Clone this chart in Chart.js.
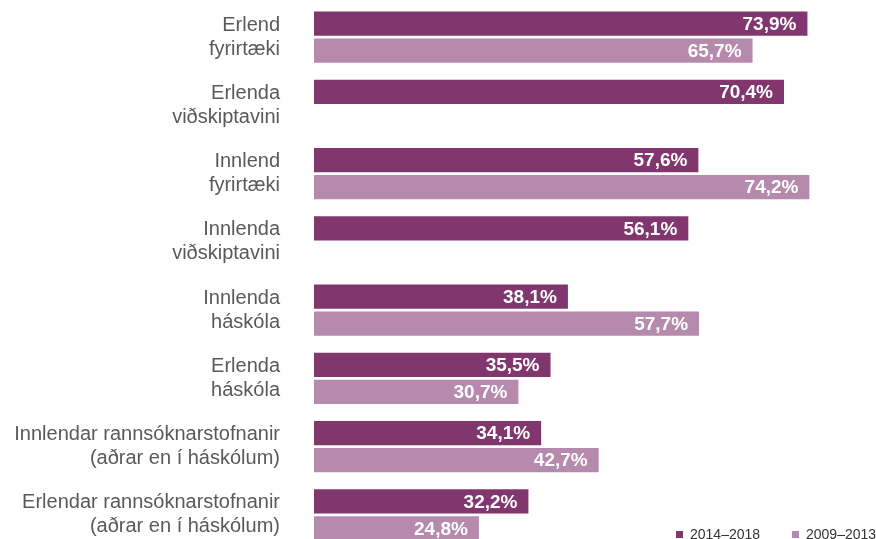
<!DOCTYPE html>
<html>
<head>
<meta charset="utf-8">
<script src="https://cdn.jsdelivr.net/npm/chart.js@4/dist/chart.umd.min.js"></script>
<style>
  html, body { margin: 0; padding: 0; background: #fff; overflow: hidden; }
  #wrap { position: relative; width: 876px; height: 549px; }
</style>
</head>
<body>
<div id="wrap"><canvas id="chartBars"></canvas></div>
<script>
// flokkar og gildi (%)
var categories = [
  ['Erlend', 'fyrirtæki'],
  ['Erlenda', 'viðskiptavini'],
  ['Innlend', 'fyrirtæki'],
  ['Innlenda', 'viðskiptavini'],
  ['Innlenda', 'háskóla'],
  ['Erlenda', 'háskóla'],
  ['Innlendar rannsóknarstofnanir', '(aðrar en í háskólum)'],
  ['Erlendar rannsóknarstofnanir', '(aðrar en í háskólum)']
];
var seriesNames = ['2014–2018', '2009–2013'];
var values2014 = [73.9, 70.4, 57.6, 56.1, 38.1, 35.5, 34.1, 32.2];
var values2009 = [65.7, null, 74.2, null, 57.7, 30.7, 42.7, 24.8];

var darkPurple = '#82366e';
var lightPurple = '#b68aad';

// gildi inni i endanum a sulunum
var barLabels = {
  id: 'barLabels',
  afterDatasetsDraw: function(chart) {
    var ctx = chart.ctx;
    ctx.save();
    ctx.font = 'bold 19px "Liberation Sans", Arial, sans-serif';
    ctx.fillStyle = '#ffffff';
    ctx.textAlign = 'right';
    ctx.textBaseline = 'middle';
    chart.data.datasets.forEach(function(ds, i) {
      var meta = chart.getDatasetMeta(i);
      meta.data.forEach(function(bar, j) {
        var v = ds.data[j];
        if (v === null || v === undefined) return;
        ctx.fillText(v.toFixed(1).replace('.', ',') + '%', bar.x - 12, bar.y + 1);
      });
    });
    ctx.restore();
  }
};

// skyring nedst til haegri
var cornerLegend = {
  id: 'cornerLegend',
  afterDraw: function(chart) {
    var ctx = chart.ctx;
    ctx.save();
    ctx.font = '14px "Liberation Sans", Arial, sans-serif';
    ctx.textBaseline = 'middle';
    ctx.textAlign = 'left';
    var xs = [676, 792];
    var y = 534;
    chart.data.datasets.forEach(function(ds, i) {
      ctx.fillStyle = ds.backgroundColor;
      ctx.fillRect(xs[i], y - 3, 7, 7);
      ctx.fillStyle = '#333333';
      ctx.fillText(ds.label, xs[i] + 14, y + 1);
    });
    ctx.restore();
  }
};

var chart1 = document.getElementById('chartBars');
var bars = new Chart(chart1, {
  type: 'bar',
  data: {
    labels: categories,
    datasets: [
      {
        label: seriesNames[0],
        backgroundColor: darkPurple,
        borderColor: 'rgba(255,255,255,0.4)',
        borderWidth: 1,
        data: values2014
      },
      {
        label: seriesNames[1],
        backgroundColor: lightPurple,
        borderColor: 'rgba(255,255,255,0.4)',
        borderWidth: 1,
        data: values2009
      }
    ]
  },
  options: {
    indexAxis: 'y',
    responsive: true,
    maintainAspectRatio: false,
    animation: false,
    categoryPercentage: 0.79,
    barPercentage: 0.97,
    layout: { padding: { top: 3, bottom: 0, left: 0, right: 0 } },
    plugins: {
      legend: { display: false },
      tooltip: { enabled: false }
    },
    scales: {
      x: {
        display: false,
        min: 0,
        max: 84
      },
      y: {
        grid: { display: false },
        border: { display: false },
        ticks: {
          padding: 26,
          color: '#595959',
          font: { family: '"Liberation Sans", Arial, sans-serif', size: 20, lineHeight: 1.2 }
        },
        afterFit: function(scale) {
          scale.width = 314;
          scale.paddingTop = 0;
          scale.paddingBottom = 0;
        }
      }
    }
  },
  plugins: [barLabels, cornerLegend]
});
</script>
</body>
</html>
